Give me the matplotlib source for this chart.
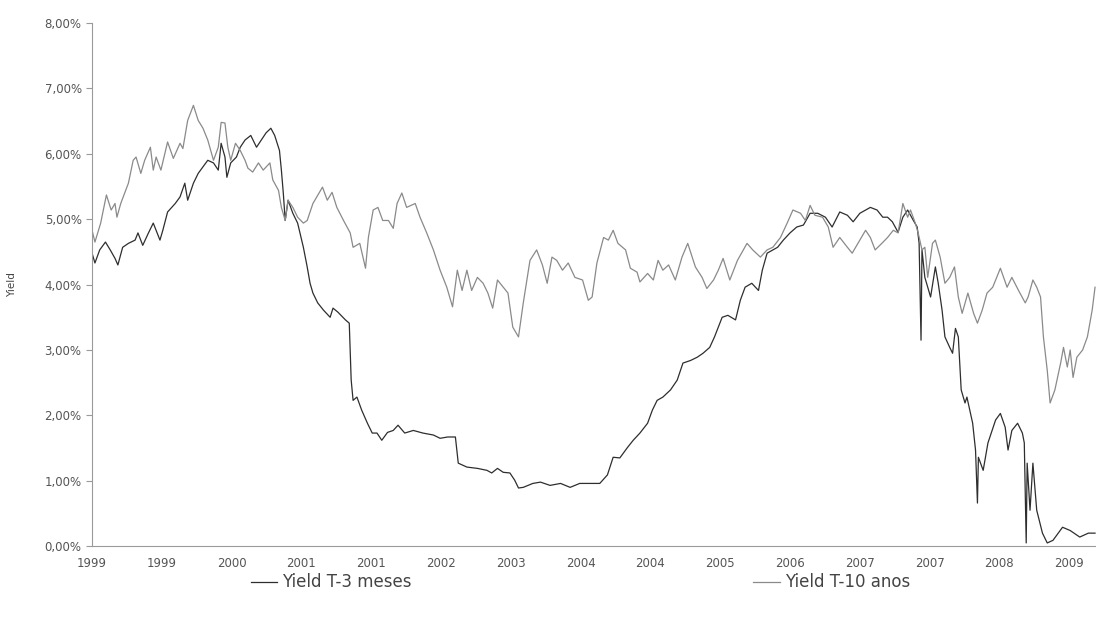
import numpy as np
import matplotlib
matplotlib.use("Agg")
import matplotlib.pyplot as plt
from matplotlib.ticker import FuncFormatter

# Yield T-10 anos (anos decorridos desde jan/1999, %)
t10_anos = [0.00, 0.03, 0.09, 0.15, 0.20, 0.24, 0.26, 0.30, 0.38, 0.43, 0.46, 0.51, 0.55, 0.61, 0.64,
            0.67, 0.72, 0.79, 0.85, 0.92, 0.95, 1.00, 1.06, 1.11, 1.16, 1.21, 1.27, 1.32, 1.35, 1.39,
            1.42, 1.45, 1.50, 1.55, 1.60, 1.63, 1.68, 1.74, 1.79, 1.86, 1.89, 1.95, 1.98, 2.02, 2.05,
            2.10, 2.15, 2.21, 2.25, 2.31, 2.41, 2.46, 2.51, 2.56, 2.63, 2.70, 2.73, 2.80, 2.86, 2.89,
            2.94, 2.99, 3.04, 3.10, 3.15, 3.19, 3.24, 3.29, 3.38, 3.43, 3.50, 3.57, 3.64, 3.71, 3.77,
            3.82, 3.87, 3.92, 3.97, 4.03, 4.09, 4.14, 4.19, 4.24, 4.30, 4.35, 4.40, 4.46, 4.51, 4.58,
            4.65, 4.71, 4.76, 4.81, 4.86, 4.92, 4.98, 5.05, 5.13, 5.19, 5.23, 5.28, 5.35, 5.40, 5.45,
            5.50, 5.58, 5.63, 5.70, 5.73, 5.81, 5.87, 5.92, 5.97, 6.03, 6.10, 6.17, 6.23, 6.31, 6.38,
            6.43, 6.50, 6.55, 6.60, 6.67, 6.75, 6.85, 6.91, 6.99, 7.06, 7.12, 7.20, 7.27, 7.33, 7.41,
            7.46, 7.51, 7.56, 7.64, 7.70, 7.75, 7.82, 7.90, 7.95, 8.01, 8.09, 8.14, 8.19, 8.26, 8.32,
            8.38, 8.43, 8.48, 8.53, 8.56, 8.61, 8.64, 8.68, 8.71, 8.74, 8.79, 8.82, 8.87, 8.92, 8.97,
            9.02, 9.06, 9.10, 9.16, 9.22, 9.26, 9.31, 9.36, 9.42, 9.50, 9.57, 9.62, 9.69, 9.76, 9.79,
            9.84, 9.88, 9.92, 9.95, 9.99, 10.02, 10.07, 10.13, 10.16, 10.20, 10.23, 10.26, 10.30,
            10.36, 10.41, 10.46, 10.49]
y10_anos = [4.83, 4.65, 4.94, 5.37, 5.14, 5.24, 5.03, 5.24, 5.55, 5.90, 5.95, 5.70, 5.90, 6.10, 5.75,
            5.95, 5.75, 6.18, 5.93, 6.16, 6.08, 6.51, 6.74, 6.51, 6.39, 6.21, 5.90, 6.10, 6.48, 6.47,
            6.10, 5.90, 6.16, 6.05, 5.90, 5.78, 5.72, 5.86, 5.75, 5.86, 5.60, 5.44, 5.18, 4.98, 5.29,
            5.18, 5.03, 4.94, 4.98, 5.24, 5.49, 5.29, 5.41, 5.18, 4.98, 4.79, 4.57, 4.63, 4.25, 4.72,
            5.14, 5.18, 4.98, 4.98, 4.86, 5.24, 5.40, 5.18, 5.24, 5.03, 4.79, 4.53, 4.22, 3.96, 3.66,
            4.22, 3.91, 4.22, 3.91, 4.11, 4.02, 3.87, 3.64, 4.07, 3.96, 3.87, 3.35, 3.20, 3.72, 4.37,
            4.53, 4.30, 4.02, 4.42, 4.37, 4.22, 4.33, 4.11, 4.07, 3.76, 3.81, 4.33, 4.72, 4.68, 4.83,
            4.63, 4.53, 4.25, 4.19, 4.04, 4.17, 4.07, 4.37, 4.22, 4.30, 4.07, 4.42, 4.63, 4.27, 4.11,
            3.94, 4.07, 4.22, 4.40, 4.07, 4.37, 4.63, 4.53, 4.42, 4.53, 4.57, 4.72, 4.94, 5.14, 5.09,
            4.98, 5.21, 5.06, 5.03, 4.88, 4.57, 4.72, 4.57, 4.48, 4.63, 4.83, 4.72, 4.53, 4.63, 4.72,
            4.83, 4.79, 5.24, 5.03, 5.14, 4.94, 4.79, 4.53, 4.57, 4.11, 4.63, 4.68, 4.42, 4.02, 4.11,
            4.27, 3.81, 3.56, 3.87, 3.56, 3.41, 3.61, 3.87, 3.96, 4.25, 3.96, 4.11, 3.91, 3.72, 3.81,
            4.07, 3.96, 3.81, 3.20, 2.69, 2.19, 2.39, 2.80, 3.04, 2.74, 3.00, 2.58, 2.89,
            3.00, 3.20, 3.61, 3.96]

# Yield T-3 meses
t3_meses = [0.00, 0.03, 0.08, 0.14, 0.19, 0.24, 0.27, 0.32, 0.38, 0.45, 0.48, 0.53, 0.59, 0.64, 0.67,
            0.71, 0.74, 0.79, 0.87, 0.92, 0.97, 1.00, 1.06, 1.11, 1.16, 1.21, 1.27, 1.32, 1.35, 1.39,
            1.41, 1.45, 1.51, 1.55, 1.60, 1.66, 1.72, 1.77, 1.82, 1.87, 1.91, 1.96, 1.98, 2.00, 2.02,
            2.05, 2.10, 2.15, 2.21, 2.25, 2.28, 2.31, 2.36, 2.42, 2.49, 2.52, 2.57, 2.65, 2.69, 2.71,
            2.73, 2.77, 2.82, 2.88, 2.93, 2.98, 3.03, 3.09, 3.15, 3.20, 3.27, 3.36, 3.46, 3.57, 3.64,
            3.72, 3.80, 3.83, 3.92, 4.03, 4.13, 4.18, 4.24, 4.30, 4.37, 4.42, 4.46, 4.51, 4.61, 4.69,
            4.79, 4.90, 5.00, 5.10, 5.21, 5.31, 5.39, 5.45, 5.52, 5.60, 5.66, 5.73, 5.81, 5.86, 5.91,
            5.97, 6.05, 6.12, 6.18, 6.26, 6.33, 6.39, 6.46, 6.51, 6.59, 6.65, 6.73, 6.78, 6.83, 6.90,
            6.97, 7.01, 7.06, 7.17, 7.23, 7.30, 7.37, 7.44, 7.51, 7.59, 7.67, 7.74, 7.82, 7.90, 7.96,
            8.03, 8.14, 8.21, 8.27, 8.32, 8.37, 8.43, 8.48, 8.53, 8.59, 8.63, 8.65, 8.67, 8.68, 8.71,
            8.77, 8.82, 8.85, 8.89, 8.92, 8.97, 9.00, 9.03, 9.06, 9.09, 9.13, 9.15, 9.21, 9.24, 9.26,
            9.27, 9.32, 9.37, 9.45, 9.50, 9.55, 9.58, 9.62, 9.68, 9.73, 9.75, 9.77, 9.78, 9.81, 9.84,
            9.88, 9.94, 9.99, 10.05, 10.15, 10.23, 10.33, 10.42, 10.49]
y3_meses = [4.48, 4.33, 4.53, 4.65, 4.53, 4.40, 4.30, 4.57, 4.63, 4.68, 4.79, 4.60, 4.79, 4.94, 4.83,
            4.68, 4.83, 5.11, 5.24, 5.34, 5.55, 5.29, 5.55, 5.70, 5.80, 5.90, 5.86, 5.75, 6.16, 5.95,
            5.64, 5.86, 5.95, 6.10, 6.21, 6.28, 6.10, 6.21, 6.32, 6.39, 6.28, 6.05, 5.75, 5.40, 4.98,
            5.29, 5.09, 4.94, 4.57, 4.27, 4.02, 3.87, 3.72, 3.61, 3.50, 3.64, 3.58, 3.46, 3.41, 2.54,
            2.23, 2.28, 2.08, 1.88, 1.73, 1.73, 1.62, 1.74, 1.77, 1.85, 1.73, 1.77, 1.73, 1.70, 1.65,
            1.67, 1.67, 1.27, 1.21, 1.19, 1.16, 1.12, 1.19, 1.13, 1.12, 1.01, 0.89, 0.90, 0.96, 0.98,
            0.93, 0.96, 0.90, 0.96, 0.96, 0.96, 1.09, 1.36, 1.35, 1.51, 1.62, 1.73, 1.88, 2.08, 2.23,
            2.28, 2.39, 2.54, 2.80, 2.84, 2.89, 2.95, 3.04, 3.20, 3.50, 3.53, 3.46, 3.76, 3.96, 4.02,
            3.91, 4.22, 4.48, 4.57, 4.68, 4.79, 4.88, 4.91, 5.09, 5.09, 5.03, 4.88, 5.11, 5.06, 4.96,
            5.09, 5.18, 5.14, 5.03, 5.03, 4.96, 4.80, 5.03, 5.14, 4.98, 4.88, 4.63, 3.15, 4.53, 4.11,
            3.81, 4.27, 4.02, 3.61, 3.20, 3.04, 2.95, 3.33, 3.20, 2.39, 2.19, 2.28, 1.88, 1.47, 0.66,
            1.36, 1.16, 1.58, 1.93, 2.03, 1.82, 1.47, 1.77, 1.88, 1.73, 1.58, 0.05, 1.27, 0.55, 1.27,
            0.55, 0.20, 0.05, 0.09, 0.29, 0.24, 0.14, 0.20, 0.20]

x_rotulos = ["1999", "1999", "2000", "2001", "2001", "2002", "2003", "2004", "2004",
             "2005", "2006", "2007", "2007", "2008", "2009"]
y_ticks = [0, 1, 2, 3, 4, 5, 6, 7, 8]

inicio = 1999.0
fig = plt.figure(figsize=(10.96, 6.20), dpi=100)
ax = fig.add_axes([0.084, 0.119, 0.916, 0.844])

l3, = ax.plot(inicio + np.array(t3_meses), y3_meses, color="#2e2e2e", lw=0.9, label="Yield T-3 meses")
l10, = ax.plot(inicio + np.array(t10_anos), y10_anos, color="#8a8a8a", lw=0.9, label="Yield T-10 anos")

ax.set_xlim(inicio, inicio + 10.5)
ax.set_ylim(0, 8)
ax.set_yticks(y_ticks)
ax.yaxis.set_major_formatter(FuncFormatter(lambda v, _: "{:.2f}%".format(v).replace(".", ",")))
ax.set_xticks(inicio + np.arange(len(x_rotulos)) * 0.73)
ax.set_xticklabels(x_rotulos)

for s in ["top", "right"]:
    ax.spines[s].set_visible(False)
for s in ["left", "bottom"]:
    ax.spines[s].set_color("#9a9a9a")
ax.tick_params(axis="y", colors="#555555", labelsize=8.5, length=4, color="#9a9a9a")
ax.tick_params(axis="x", colors="#555555", labelsize=8.5, length=0, pad=8)
ax.set_ylabel("Yield", fontsize=7.5, color="#444444", labelpad=20)

fig.legend(handles=[l3, l10], loc="lower left", bbox_to_anchor=(0.215, 0.022), ncol=2,
           frameon=False, fontsize=12, handlelength=1.6, handletextpad=0.3,
           columnspacing=20.5, labelcolor="#444444")

fig.savefig("out.png", dpi=100, facecolor="white")
